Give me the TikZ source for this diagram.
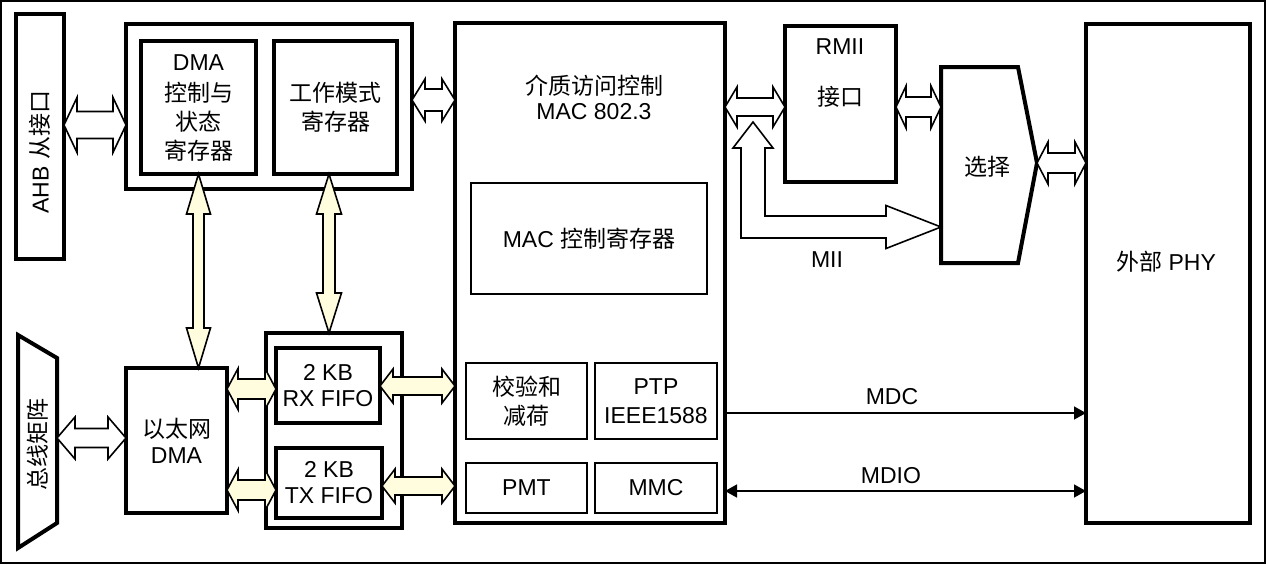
\documentclass[tikz,border=0pt]{standalone}
\usepackage{fontspec}
\setmainfont{Liberation Sans}
\newfontfamily\cjk{Noto Sans CJK SC}
\usetikzlibrary{arrows.meta,calc}
\definecolor{cream}{RGB}{255,253,222}
\tikzset{tri/.tip={Triangle[length=6pt,width=6.5pt]}}
% horizontal hollow double arrow: style, left tip, right tip, head half, shaft half, head length
\newcommand\hdbl[6]{%
  \draw[#1] let \p1=#2, \p2=#3 in
    (\x1,\y1) -- (\x1+#6,\y1+#4) -- (\x1+#6,\y1+#5) -- (\x2-#6,\y1+#5) -- (\x2-#6,\y1+#4) -- (\x2,\y1)
    -- (\x2-#6,\y1-#4) -- (\x2-#6,\y1-#5) -- (\x1+#6,\y1-#5) -- (\x1+#6,\y1-#4) -- cycle;}
% vertical double arrow: style, top tip, bottom tip, head half, shaft half, head length
\newcommand\vdbl[6]{%
  \draw[#1] let \p1=#2, \p2=#3 in
    (\x1,\y1) -- (\x1+#4,\y1-#6) -- (\x1+#5,\y1-#6) -- (\x1+#5,\y2+#6) -- (\x1+#4,\y2+#6) -- (\x1,\y2)
    -- (\x1-#4,\y2+#6) -- (\x1-#5,\y2+#6) -- (\x1-#5,\y1-#6) -- (\x1-#4,\y1-#6) -- cycle;}
\begin{document}
\begin{tikzpicture}[x=0.5pt,y=-0.5pt, font=\fontsize{11.5}{14.5}\selectfont,
  box/.style={draw, line width=2pt, inner sep=0pt, outer sep=0pt, align=center},
  subbox/.style={draw, line width=1.3pt, inner sep=0pt, outer sep=0pt, align=center},
  txt/.style={inner sep=0pt, align=center},
  hollow/.style={line width=0.8pt, fill=white, line join=miter},
  yarrow/.style={line width=0.8pt, fill=cream, line join=miter},
  sig/.style={line width=0.8pt}]
\useasboundingbox (0,0) rectangle (1266,564);
\draw[line width=0.8pt] (1,1) rectangle (1265,563);

% left column
\node[box, minimum width=24pt, minimum height=122.5pt] (ahb) at (40,136.5) {};
\node[txt, rotate=90] (ahbT) at (40,152) {AHB {\cjk 从接口}};
\coordinate (busTL) at (18,335);
\coordinate (busTR) at (57,358);
\coordinate (busBR) at (57,523);
\coordinate (busBL) at (18,548);
\draw[line width=2pt, line join=miter] (busTL) -- (busTR) -- (busBR) -- (busBL) -- cycle;
\node[txt, rotate=90] (busT) at (38,444) {\cjk 总线矩阵};

% top-left register group
\node[box, minimum width=143pt, minimum height=82.5pt] (topC) at (269,106.5) {};
\node[box, minimum width=57.5pt, minimum height=66.5pt] (dmaR) at (198.5,107.5) {DMA\\[1pt]{\cjk 控制与}\\{\cjk 状态}\\{\cjk 寄存器}};
\node[box, minimum width=61.5pt, minimum height=66.5pt] (wm) at (335.5,107.5) {\cjk 工作模式\\\cjk 寄存器};

% Ethernet DMA and FIFOs
\node[box, minimum width=50.5pt, minimum height=72.5pt, font=\fontsize{11.5}{13}\selectfont] (edma) at (176.5,440.5) {{\cjk 以太网}\\DMA};
\node[draw, line width=1.7pt, inner sep=0pt, outer sep=0pt, minimum width=68pt, minimum height=97.5pt] (fifoC) at (334,430.5) {};
\node[box, minimum width=52pt, minimum height=37.5pt, font=\fontsize{11.5}{13}\selectfont] (rx) at (328,385.5) {2 KB\\RX FIFO};
\node[box, minimum width=53pt, minimum height=35pt, font=\fontsize{11.5}{13}\selectfont] (tx) at (329,483) {2 KB\\TX FIFO};

% MAC
\node[box, minimum width=135pt, minimum height=250pt] (mac) at (590,273) {};
\node[txt, font=\fontsize{11.5}{12.5}\selectfont] (macT) at (594,97.5) {{\cjk 介质访问控制}\\MAC 802.3};
\node[subbox, minimum width=118pt, minimum height=55.5pt] (macreg) at (589,238.5) {MAC {\cjk 控制寄存器}};
\node[subbox, minimum width=60.5pt, minimum height=38pt] (csum) at (526.5,401) {\cjk 校验和\\\cjk 减荷};
\node[subbox, minimum width=61pt, minimum height=38pt] (ptp) at (656,401) {PTP\\IEEE1588};
\node[subbox, minimum width=60.5pt, minimum height=25pt] (pmt) at (526.5,488) {PMT};
\node[subbox, minimum width=61pt, minimum height=25pt] (mmc) at (656,488) {MMC};

% RMII, select, PHY
\node[box, minimum width=55.5pt, minimum height=78pt] (rmii) at (840.5,104) {};
\node[txt] (rmiiT) at (840,47) {RMII};
\node[txt] (rmiiT2) at (840,97) {\cjk 接口};
\coordinate (selTL) at (941,67);
\coordinate (selTR) at (1018,67);
\coordinate (selR) at (1037,163);
\coordinate (selBR) at (1018,263);
\coordinate (selBL) at (941,263);
\draw[line width=2pt, line join=miter] (selTL) -- (selTR) -- (selR) -- (selBR) -- (selBL) -- cycle;
\node[txt] (selT) at (987,167) {\cjk 选择};
\node[box, minimum width=82pt, minimum height=249.5pt] (phy) at (1168,273.5) {};
\node[txt] (phyT) at (1166,262) {{\cjk 外部} PHY};

% hollow double arrows
\hdbl{hollow}{(ahb.east |- 0,125)}{(topC.west |- 0,125)}{13.75pt}{6.75pt}{6.5pt}
\hdbl{hollow}{(topC.east |- 0,100)}{(mac.west |- 0,100)}{10.5pt}{5.5pt}{6.5pt}
\hdbl{hollow}{(busTR |- 0,438)}{(edma.west |- 0,438)}{10.5pt}{4.75pt}{9pt}
\hdbl{hollow}{(rmii.east |- 0,107)}{(selTL |- 0,107)}{10.5pt}{5pt}{5pt}
\hdbl{hollow}{(selR)}{(phy.west |- 0,163)}{10.5pt}{5pt}{5.5pt}
% MII
\coordinate (miiS) at (753,122);
\draw[hollow] let \p1=(miiS), \p2=(selTL |- 0,227) in
  (\x1,\y1) -- (\x1+10pt,\y1-13pt) -- (\x1+6pt,\y1-13pt) -- (\x1+6pt,\y2+5.5pt) -- (\x2-27.5pt,\y2+5.5pt)
  -- (\x2-27.5pt,\y2+10.75pt) -- (\x2,\y2) -- (\x2-27.5pt,\y2-10.75pt) -- (\x2-27.5pt,\y2-5.5pt)
  -- (\x1-6pt,\y2-5.5pt) -- (\x1-6pt,\y1-13pt) -- (\x1-10pt,\y1-13pt) -- cycle;
\hdbl{hollow}{(mac.east |- 0,107)}{(rmii.west |- 0,107)}{10pt}{4.5pt}{6pt}
\node[txt] (miiT) at (827,260) {MII};

% yellow arrows
\vdbl{yarrow}{(dmaR.south)}{(dmaR.south |- edma.north)}{6pt}{2.75pt}{20pt}
\vdbl{yarrow}{(329,0 |- wm.south)}{(329,0 |- fifoC.north)}{6.25pt}{3pt}{20pt}
\hdbl{yarrow}{(edma.east |- 0,389)}{(rx.west |- 0,389)}{10.25pt}{5pt}{5.5pt}
\hdbl{yarrow}{(edma.east |- 0,490)}{(tx.west |- 0,490)}{10.25pt}{5pt}{5.5pt}
\hdbl{yarrow}{(rx.east |- 0,386)}{(mac.west |- 0,386)}{8.5pt}{4.5pt}{6.5pt}
\hdbl{yarrow}{(tx.east |- 0,486)}{(mac.west |- 0,486)}{8.5pt}{4.5pt}{6.5pt}

% MDC / MDIO
\draw[sig, -tri] (mac.east |- 0,413) -- (phy.west |- 0,413);
\node[txt] (mdcT) at (892,397) {MDC};
\draw[sig, tri-tri] (mac.east |- 0,491) -- (phy.west |- 0,491);
\node[txt] (mdioT) at (891,476) {MDIO};
\end{tikzpicture}
\end{document}
